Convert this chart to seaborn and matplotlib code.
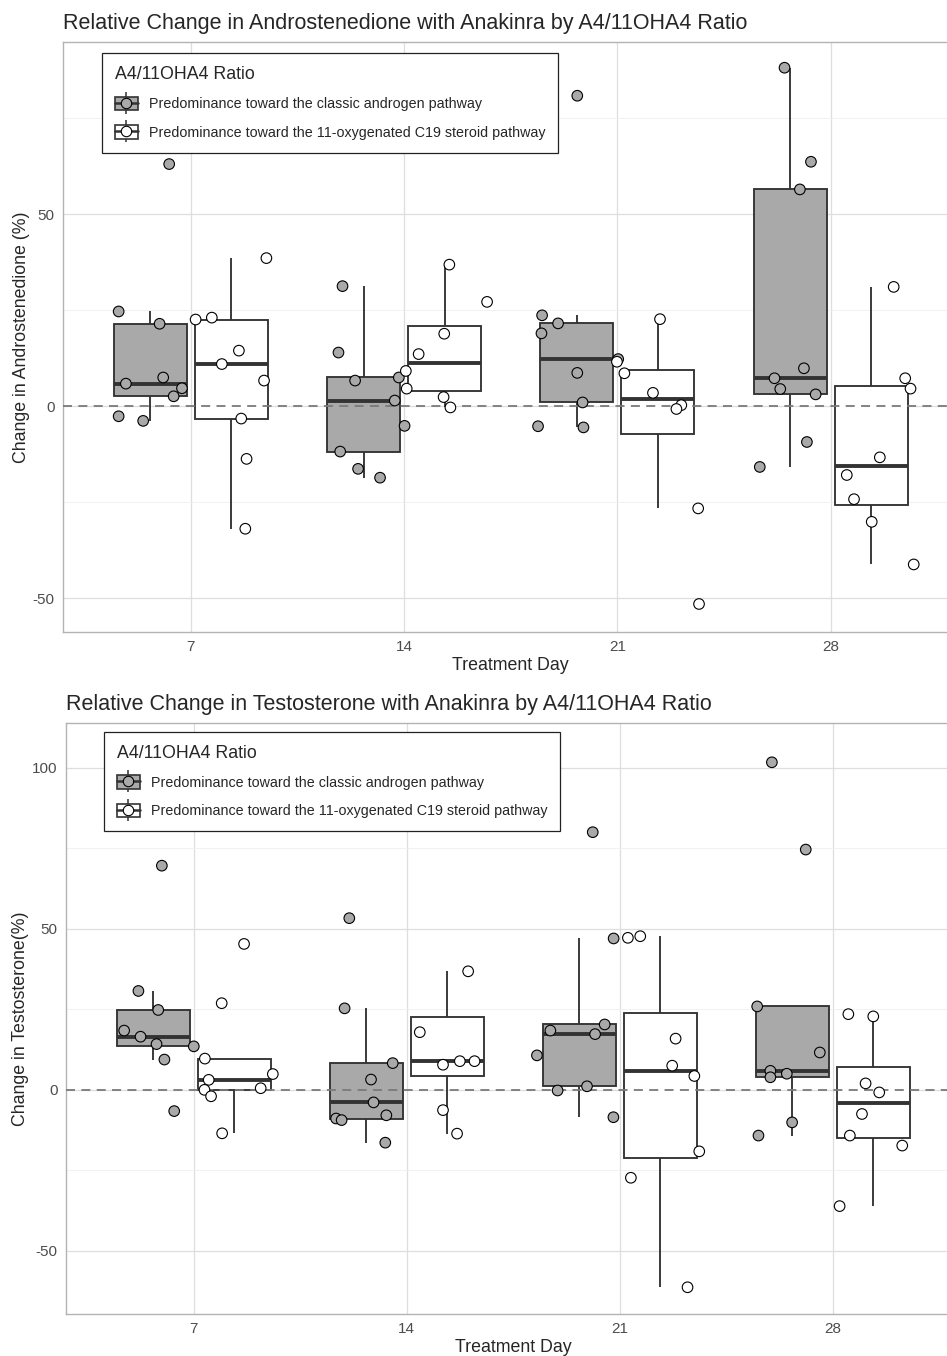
import numpy as np
import pandas as pd
import matplotlib
matplotlib.use("Agg")
import matplotlib.pyplot as plt
import seaborn as sns
from matplotlib.ticker import MultipleLocator
from matplotlib.patches import Patch
from matplotlib.lines import Line2D
from matplotlib.legend_handler import HandlerTuple

# ─────────────────────────────────────────────
# DATA
# ─────────────────────────────────────────────
days = [7, 14, 21, 28]
groups = ["Predominance toward the classic androgen pathway",
          "Predominance toward the 11-oxygenated C19 steroid pathway"]

# Androstenedione, % change -- one list per treatment day
a4_classic = [
    [24.7, 21.5, 5.9, 7.5, 4.7, 2.6, -2.6, -3.8, 63.1],
    [31.3, 14.0, 6.7, 7.5, 1.5, -5.1, -11.8, -16.3, -18.6],
    [80.9, 23.7, 21.6, 19.0, 12.3, 8.7, 1.0, -5.2, -5.5],
    [88.2, 63.7, 56.5, 9.9, 7.3, 4.5, 3.1, -9.3, -15.8],
]
a4_oxy = [
    [38.6, 22.6, 23.1, 14.5, 11.0, 6.7, -3.2, -13.7, -31.9],
    [36.9, 27.2, 18.9, 13.6, 9.2, 4.6, 2.4, -0.3],
    [22.7, 11.6, 8.6, 3.5, 0.3, -0.7, -26.6, -51.5],
    [31.1, 7.3, 4.6, -13.3, -17.9, -24.2, -30.1, -41.2],
]
# horizontal jitter of each point (fraction of a category)
a4_classic_jit = [
    [-0.149, 0.043, -0.115, 0.060, 0.148, 0.109, -0.149, -0.034, 0.088],
    [-0.099, -0.118, -0.040, 0.165, 0.146, 0.192, -0.110, -0.026, 0.077],
    [0.002, -0.163, -0.088, -0.166, 0.194, 0.002, 0.027, -0.182, 0.031],
    [-0.026, 0.098, 0.046, 0.065, -0.073, -0.046, 0.120, 0.079, -0.142],
]
a4_oxy_jit = [
    [0.164, -0.168, -0.092, 0.035, -0.045, 0.153, 0.046, 0.071, 0.065],
    [0.022, 0.199, -0.002, -0.122, -0.182, -0.178, -0.005, 0.027],
    [0.010, -0.192, -0.157, -0.023, 0.110, 0.087, 0.189, 0.193],
    [0.106, 0.160, 0.185, 0.041, -0.114, -0.080, 0.003, 0.200],
]

# Testosterone, % change
t_classic = [
    [69.6, 30.7, 24.8, 18.4, 16.5, 14.2, 13.5, 9.4, -6.6],
    [53.3, 25.3, 8.3, 3.2, -3.9, -8.9, -9.4, -7.9, -16.4],
    [80.0, 47.0, 20.3, 18.4, 17.3, 10.7, 1.1, -0.2, -8.5],
    [101.7, 74.6, 25.9, 11.6, 5.9, 3.9, 5.0, -10.1, -14.2],
]
t_oxy = [
    [45.3, 26.9, 9.7, 4.9, 3.1, 0.0, 0.5, -2.0, -13.5],
    [92.0, 36.8, 17.9, 7.8, 8.9, 8.9, -6.3, -13.6],
    [47.2, 47.7, 15.9, 7.5, 4.3, -19.1, -27.3, -61.3],
    [23.5, 22.8, 2.0, -0.8, -7.5, -14.2, -17.3, -36.1],
]
t_classic_jit = [
    [0.040, -0.070, 0.023, -0.137, -0.060, 0.015, 0.190, 0.052, 0.098],
    [-0.080, -0.102, 0.124, 0.022, 0.034, -0.142, -0.116, 0.094, 0.089],
    [0.063, 0.161, 0.119, -0.136, 0.074, -0.199, 0.036, -0.102, 0.160],
    [-0.096, 0.063, -0.165, 0.129, -0.103, -0.103, -0.026, -0.001, -0.159],
]
t_oxy_jit = [
    [0.046, -0.059, -0.138, 0.181, -0.120, -0.140, 0.124, -0.109, -0.057],
    [0.000, 0.098, -0.129, -0.020, 0.059, 0.128, -0.020, 0.046],
    [-0.152, -0.094, 0.072, 0.056, 0.160, 0.183, -0.138, 0.128],
    [-0.117, 0.000, -0.036, 0.028, -0.053, -0.110, 0.136, -0.158],
]

# ─────────────────────────────────────────────
# STYLE
# ─────────────────────────────────────────────
sns.set_style("white")
plt.rcParams["font.family"] = ["Liberation Sans", "DejaVu Sans"]
plt.rcParams["axes.unicode_minus"] = False

GRAY = "#A9A9A9"
EDGE = "#333333"
palette = {groups[0]: GRAY, groups[1]: "white"}
BOX_W = 0.76
DODGE = BOX_W / 4


def to_frame(classic, classic_jit, oxy, oxy_jit):
    rows = []
    for g, vals, jits, side in [(groups[0], classic, classic_jit, -1),
                                (groups[1], oxy, oxy_jit, 1)]:
        for i, d in enumerate(days):
            for v, j in zip(vals[i], jits[i]):
                rows.append({"day": d, "group": g, "value": v,
                             "xpos": i + side * DODGE + j})
    return pd.DataFrame(rows)


def legend_key(fill):
    whisk = Line2D([], [], color=EDGE, marker="|", markersize=16,
                   markeredgewidth=1.1, linestyle="None")
    box = Patch(facecolor=fill, edgecolor=EDGE, linewidth=1.2)
    med = Line2D([], [], color=EDGE, linewidth=1.8)
    pt = Line2D([], [], marker="o", markersize=7.5, markerfacecolor=fill,
                markeredgecolor="black", markeredgewidth=0.8, linestyle="None")
    return (whisk, box, med, pt)


def draw_panel(ax, df, ylim, ylabel, title, leg_anchor):
    sns.boxplot(data=df, x="day", y="value", hue="group", hue_order=groups,
                palette=palette, saturation=1, width=BOX_W, gap=0.1,
                showfliers=False, showcaps=False, linecolor=EDGE,
                linewidth=1.35, medianprops={"linewidth": 2.8, "color": EDGE},
                legend=False, ax=ax)
    ax.axhline(0, color="#7A7A7A", linestyle=(0, (5, 3.5)), linewidth=1.3,
               zorder=3)
    sns.scatterplot(data=df, x="xpos", y="value", hue="group",
                    hue_order=groups, palette=palette, s=58,
                    edgecolor="black", linewidth=0.8, legend=False,
                    zorder=4, ax=ax)

    ax.set_xlim(-0.6, 3.6)
    ax.set_ylim(*ylim)
    ax.set_xticks(range(len(days)))
    ax.set_xticklabels([str(d) for d in days])
    ax.yaxis.set_major_locator(MultipleLocator(50))
    ax.yaxis.set_minor_locator(MultipleLocator(25))
    ax.grid(which="major", color="#DEDEDE", linewidth=0.9)
    ax.grid(which="minor", axis="y", color="#EFEFEF", linewidth=0.6)
    ax.set_axisbelow(True)
    ax.tick_params(which="major", length=3, width=0.8, color="#B3B3B3",
                   labelcolor="#4D4D4D", labelsize=11, pad=3)
    ax.tick_params(which="minor", length=0)
    for sp in ax.spines.values():
        sp.set_color("#B3B3B3")
        sp.set_linewidth(1.0)

    ax.set_xlabel("Treatment Day", fontsize=12.8, labelpad=2)
    ax.set_ylabel(ylabel, fontsize=12.8, labelpad=2)
    ax.set_title(title, loc="left", fontsize=15.5, pad=9)

    leg = ax.legend(handles=[legend_key(GRAY), legend_key("white")],
                    labels=groups, title="A4/11OHA4 Ratio",
                    handler_map={tuple: HandlerTuple(ndivide=1, pad=0)},
                    loc="upper left", bbox_to_anchor=leg_anchor,
                    borderaxespad=0, fontsize=10.3, title_fontsize=12.8,
                    numpoints=1, handlelength=1.6, handleheight=1.1,
                    labelspacing=0.95, handletextpad=0.75, borderpad=0.9,
                    frameon=True, fancybox=False, framealpha=1,
                    edgecolor="#222222")
    leg._legend_box.align = "left"
    leg.get_frame().set_linewidth(0.9)


fig = plt.figure(figsize=(9.47, 13.56), dpi=100)
W, H = 947, 1356
ax1 = fig.add_axes([63 / W, 1 - 632 / H, 895.5 / W, 590 / H])
ax2 = fig.add_axes([66 / W, 1 - 1314 / H, 894.6 / W, 591 / H])

df_a4 = to_frame(a4_classic, a4_classic_jit, a4_oxy, a4_oxy_jit)
df_t = to_frame(t_classic, t_classic_jit, t_oxy, t_oxy_jit)

draw_panel(ax1, df_a4, (-58.8, 94.9), "Change in Androstenedione (%)",
           "Relative Change in Androstenedione with Anakinra by A4/11OHA4 Ratio",
           (0.0436, 0.981))
draw_panel(ax2, df_t, (-69.6, 113.9), "Change in Testosterone(%)",
           "Relative Change in Testosterone with Anakinra by A4/11OHA4 Ratio",
           (0.0425, 0.985))

fig.savefig("out.png", dpi=100)
plt.close(fig)
